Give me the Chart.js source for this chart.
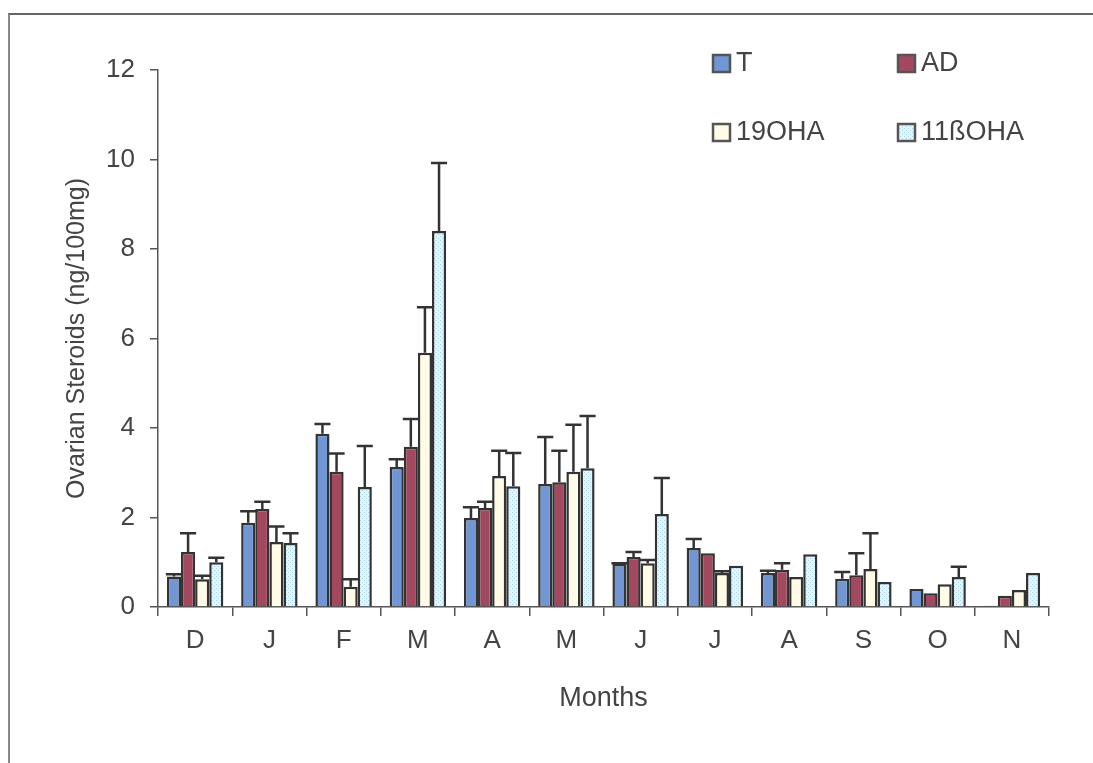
<!DOCTYPE html>
<html>
<head>
<meta charset="utf-8">
<script src="https://cdn.jsdelivr.net/npm/chart.js@4.4.1/dist/chart.umd.min.js"></script>
<style>
  html, body { margin: 0; padding: 0; background: #fff; }
  #wrap { position: relative; width: 1093px; height: 763px; overflow: hidden; }
  #frame { position: absolute; left: 8px; top: 13px; width: 1200px; height: 900px;
           border-top: 2px solid #666; border-left: 2px solid #888; }
  #chart { position: absolute; left: 0; top: 0; }
</style>
</head>
<body>
<div id="wrap">
  <div id="frame"></div>
  <canvas id="chart" width="1093" height="763"></canvas>
</div>
<script>
// Ovarian steroid levels by month (mean + upper error)

const MONTHS = ['D', 'J', 'F', 'M', 'A', 'M', 'J', 'J', 'A', 'S', 'O', 'N'];
const SERIES_NAMES = ['T', 'AD', '19OHA', '11ßOHA'];
const Y_TICKS = [0, 2, 4, 6, 8, 10, 12];

const T_VALUES     = [0.68, 1.88, 3.87, 3.13, 1.99, 2.75, 0.96, 1.32, 0.76, 0.63, 0.40, 0.03];
const T_ERR        = [0.05, 0.26, 0.22, 0.17, 0.24, 1.05, 0.02, 0.20, 0.05, 0.15, 0.00, 0.00];
const AD_VALUES    = [1.23, 2.19, 3.02, 3.58, 2.21, 2.79, 1.12, 1.20, 0.83, 0.71, 0.31, 0.25];
const AD_ERR       = [0.42, 0.16, 0.41, 0.62, 0.14, 0.70, 0.11, 0.00, 0.15, 0.49, 0.00, 0.00];
const OHA19_VALUES = [0.62, 1.45, 0.45, 5.68, 2.93, 3.02, 0.98, 0.76, 0.67, 0.85, 0.51, 0.38];
const OHA19_ERR    = [0.08, 0.35, 0.17, 1.02, 0.56, 1.05, 0.07, 0.04, 0.00, 0.80, 0.00, 0.00];
const OHA11_VALUES = [1.00, 1.43, 2.68, 8.40, 2.70, 3.10, 2.08, 0.92, 1.18, 0.56, 0.67, 0.76];
const OHA11_ERR    = [0.10, 0.22, 0.92, 1.52, 0.74, 1.17, 0.80, 0.00, 0.00, 0.00, 0.23, 0.00];

const TEXT = '#444';
const EDGE = '#333';
const FONT = "'Liberation Sans', Arial, sans-serif";

// dotted light cyan fill for 11ßOHA
function dotPattern() {
  const c = document.createElement('canvas');
  c.width = 4; c.height = 4;
  const g = c.getContext('2d');
  g.fillStyle = '#e3f5fb';
  g.fillRect(0, 0, 4, 4);
  g.fillStyle = '#a9d6e8';
  g.fillRect(0, 0, 1, 1);
  g.fillRect(2, 2, 1, 1);
  return g.createPattern(c, 'repeat');
}

const FILLS = ['#7096d4', '#a3485e', '#fffbe6', dotPattern()];
const VALUES = [T_VALUES, AD_VALUES, OHA19_VALUES, OHA11_VALUES];
const ERRORS = [T_ERR, AD_ERR, OHA19_ERR, OHA11_ERR];

// upper error bars drawn from the y scale
const errorBars = {
  id: 'errorBars',
  afterDatasetsDraw(chart) {
    const { ctx, scales: { y } } = chart;
    ctx.save();
    ctx.strokeStyle = EDGE;
    ctx.lineWidth = 2.5;
    chart.data.datasets.forEach((ds, i) => {
      const meta = chart.getDatasetMeta(i);
      meta.data.forEach((bar, j) => {
        const e = ds.err[j];
        if (!e) return;
        const top = y.getPixelForValue(ds.data[j] + e);
        const half = bar.width / 2 + 1;
        ctx.beginPath();
        ctx.moveTo(bar.x, bar.y);
        ctx.lineTo(bar.x, top);
        ctx.moveTo(bar.x - half, top);
        ctx.lineTo(bar.x + half, top);
        ctx.stroke();
      });
    });
    ctx.restore();
  }
};

// legend sitting inside the plot, 2 x 2
const insideLegend = {
  id: 'insideLegend',
  afterDraw(chart) {
    const { ctx, chartArea: a } = chart;
    const cols = [a.left + 555, a.left + 740];
    const rows = [a.top - 7, a.top + 62];
    ctx.save();
    ctx.font = `27px ${FONT}`;
    ctx.textBaseline = 'middle';
    chart.data.datasets.forEach((ds, i) => {
      const x = cols[i % 2], yy = rows[Math.floor(i / 2)];
      ctx.fillStyle = ds.backgroundColor;
      ctx.fillRect(x, yy - 8, 17, 17);
      ctx.strokeStyle = '#555';
      ctx.lineWidth = 2.5;
      ctx.strokeRect(x, yy - 8, 17, 17);
      ctx.fillStyle = TEXT;
      ctx.fillText(ds.label, x + 23, yy + 1);
    });
    ctx.restore();
  }
};

new Chart(document.getElementById('chart').getContext('2d'), {
  type: 'bar',
  data: {
    labels: MONTHS,
    datasets: SERIES_NAMES.map((name, i) => ({
      label: name,
      data: VALUES[i],
      err: ERRORS[i],
      backgroundColor: FILLS[i],
      borderColor: EDGE,
      borderWidth: 2.5,
      borderSkipped: 'bottom',
      categoryPercentage: 0.76,
      barPercentage: 1
    }))
  },
  options: {
    responsive: false,
    animation: false,
    layout: { padding: { left: 0, top: 70, right: 44, bottom: 48 } },
    plugins: { legend: { display: false }, tooltip: { enabled: false } },
    scales: {
      x: {
        afterFit: s => { s.height = 108; },
        grid: { offset: true, drawOnChartArea: false, tickLength: 9, color: '#555', lineWidth: 1.5 },
        border: { color: '#555', width: 1.5 },
        ticks: { color: TEXT, font: { family: FONT, size: 26 }, padding: 9 },
        title: { display: true, text: 'Months', color: TEXT, font: { family: FONT, size: 27 }, padding: { top: 0, bottom: 0 } }
      },
      y: {
        min: 0, max: 12,
        afterFit: s => { s.width = 158; },
        afterBuildTicks: s => { s.ticks = Y_TICKS.map(v => ({ value: v })); },
        grid: { drawOnChartArea: false, tickLength: 8, color: '#555', lineWidth: 1.5 },
        border: { color: '#555', width: 1.5 },
        ticks: { color: TEXT, font: { family: FONT, size: 26 }, padding: 15 },
        title: { display: true, text: 'Ovarian Steroids (ng/100mg)', color: TEXT, font: { family: FONT, size: 25 }, padding: { top: 62, bottom: 0 } }
      }
    }
  },
  plugins: [errorBars, insideLegend]
});
</script>
</body>
</html>
